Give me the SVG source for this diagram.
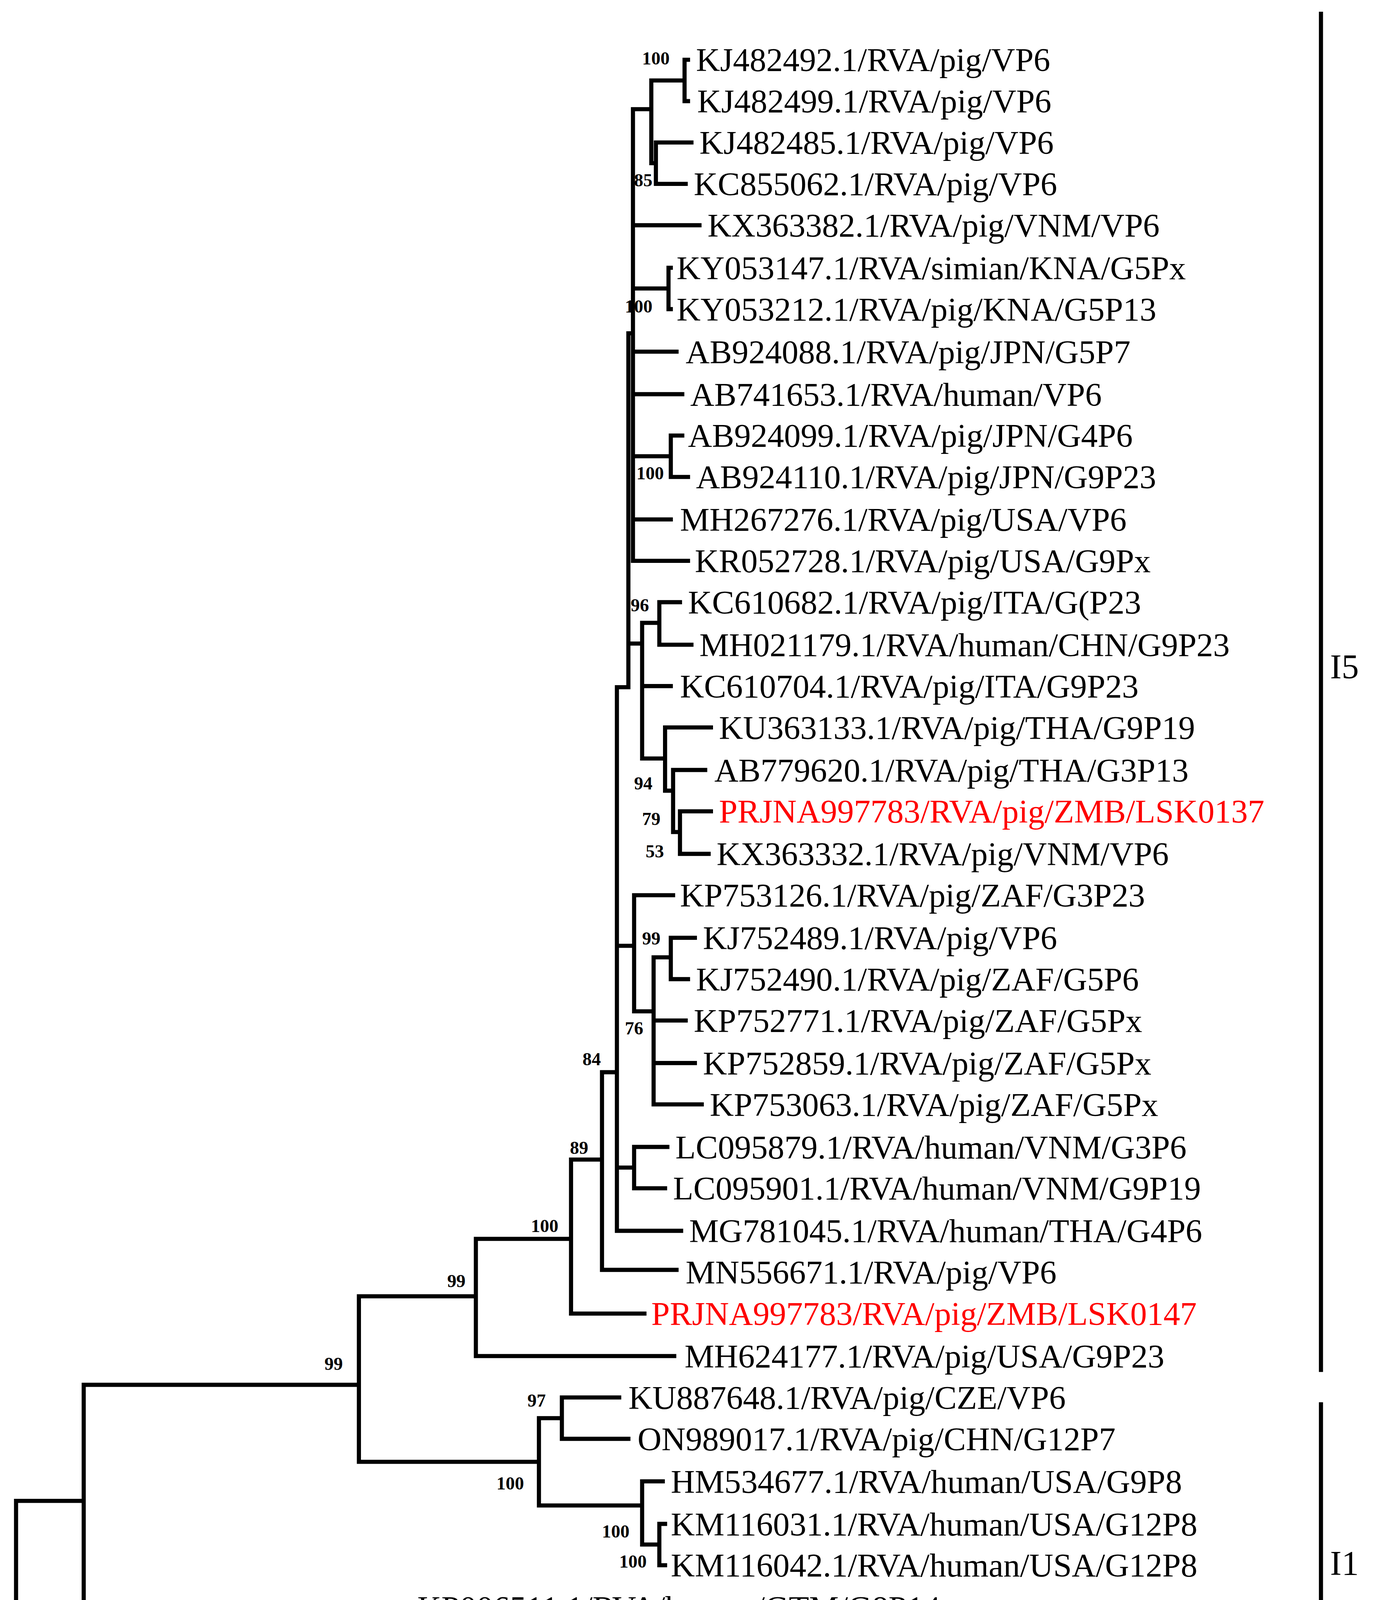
<svg xmlns="http://www.w3.org/2000/svg" width="3522" height="4604" viewBox="0 0 3522 4604">
<style>
.ln{fill:none;stroke:#000;stroke-width:3.6;stroke-linecap:square}
.t{font-family:"Liberation Serif",serif;font-size:29px;fill:#000}
.r{fill:#ff0000}
.b{font-family:"Liberation Serif",serif;font-size:16px;font-weight:bold;fill:#000}
.g{font-family:"Liberation Serif",serif;font-size:30px;fill:#000}
</style>
<rect width="3522" height="4604" fill="#fff"/>
<g transform="scale(2.935 2.942)">
<g id="connectors">
<path class="ln" d="M14 1306V1470 M14 1306H73 M14 1470H620
M73 1205V1415 M73 1415H355 M73 1205H313
M355 1398V1435 M355 1398H358 M355 1435H402
M313 1128V1272 M313 1128H415 M313 1272H470
M470 1234V1310 M470 1234H490 M470 1310H560
M490 1216V1252 M490 1216H540 M490 1252H548
M560 1289V1344 M560 1289H578 M560 1344H575
M575 1326V1362 M575 1326H580 M575 1362H580
M415 1078V1180 M415 1078H498 M415 1180H588
M498 1009V1143 M498 1009H525 M498 1143H562
M525 933V1105 M525 933H538 M525 1105H590
M538 598V1071 M538 598H548 M538 823H553 M538 1016H553 M538 1071H594
M553 998V1034 M553 998H582 M553 1034H580
M553 779V880 M553 779H587 M553 880H570
M570 833V961 M570 833H585 M570 888H598 M570 925H606 M570 961H612
M585 816V852 M585 816H606 M585 852H600
M548 290V598 M548 290H552 M548 560H560
M560 542V660 M560 542H575 M560 597H585 M560 660H580
M575 524V561 M575 524H593 M575 561H603
M580 633V688 M580 633H620 M580 688H587
M587 670V724 M587 670H615 M587 724H593
M593 706V743 M593 706H620 M593 743H618
M552 95V488 M552 95H568 M552 196H610 M552 251H583 M552 306H590 M552 343H595 M552 397H585 M552 452H585 M552 488H600
M568 70V142 M568 70H597 M568 142H572
M597 52V88 M597 52H600 M597 88H600
M572 124V160 M572 124H603 M572 160H598
M583 233V269 M583 233H585 M583 269H585
M585 379V415 M585 379H595 M585 415H600
M1152 12V1192 M1152 1222V1495
M90 1520H180 M90 1512V1520 M180 1512V1520"/>
</g>
<g id="leaves">
<text class="t" x="607" y="62">KJ482492.1/RVA/pig/VP6</text>
<text class="t" x="608" y="98">KJ482499.1/RVA/pig/VP6</text>
<text class="t" x="610" y="134">KJ482485.1/RVA/pig/VP6</text>
<text class="t" x="605" y="170">KC855062.1/RVA/pig/VP6</text>
<text class="t" x="617" y="206">KX363382.1/RVA/pig/VNM/VP6</text>
<text class="t" x="590" y="243">KY053147.1/RVA/simian/KNA/G5Px</text>
<text class="t" x="590" y="279">KY053212.1/RVA/pig/KNA/G5P13</text>
<text class="t" x="598" y="316">AB924088.1/RVA/pig/JPN/G5P7</text>
<text class="t" x="602" y="353">AB741653.1/RVA/human/VP6</text>
<text class="t" x="600" y="389">AB924099.1/RVA/pig/JPN/G4P6</text>
<text class="t" x="607" y="425">AB924110.1/RVA/pig/JPN/G9P23</text>
<text class="t" x="593" y="462">MH267276.1/RVA/pig/USA/VP6</text>
<text class="t" x="606" y="498">KR052728.1/RVA/pig/USA/G9Px</text>
<text class="t" x="600" y="534">KC610682.1/RVA/pig/ITA/G(P23</text>
<text class="t" x="610" y="571">MH021179.1/RVA/human/CHN/G9P23</text>
<text class="t" x="593" y="607">KC610704.1/RVA/pig/ITA/G9P23</text>
<text class="t" x="627" y="643">KU363133.1/RVA/pig/THA/G9P19</text>
<text class="t" x="623" y="680">AB779620.1/RVA/pig/THA/G3P13</text>
<text class="t r" x="627" y="716">PRJNA997783/RVA/pig/ZMB/LSK0137</text>
<text class="t" x="625" y="753">KX363332.1/RVA/pig/VNM/VP6</text>
<text class="t" x="593" y="789">KP753126.1/RVA/pig/ZAF/G3P23</text>
<text class="t" x="613" y="826">KJ752489.1/RVA/pig/VP6</text>
<text class="t" x="607" y="862">KJ752490.1/RVA/pig/ZAF/G5P6</text>
<text class="t" x="605" y="898">KP752771.1/RVA/pig/ZAF/G5Px</text>
<text class="t" x="613" y="935">KP752859.1/RVA/pig/ZAF/G5Px</text>
<text class="t" x="619" y="971">KP753063.1/RVA/pig/ZAF/G5Px</text>
<text class="t" x="589" y="1008">LC095879.1/RVA/human/VNM/G3P6</text>
<text class="t" x="587" y="1044">LC095901.1/RVA/human/VNM/G9P19</text>
<text class="t" x="601" y="1081">MG781045.1/RVA/human/THA/G4P6</text>
<text class="t" x="598" y="1117">MN556671.1/RVA/pig/VP6</text>
<text class="t r" x="568" y="1153">PRJNA997783/RVA/pig/ZMB/LSK0147</text>
<text class="t" x="597" y="1190">MH624177.1/RVA/pig/USA/G9P23</text>
<text class="t" x="548" y="1226">KU887648.1/RVA/pig/CZE/VP6</text>
<text class="t" x="556" y="1262">ON989017.1/RVA/pig/CHN/G12P7</text>
<text class="t" x="585" y="1299">HM534677.1/RVA/human/USA/G9P8</text>
<text class="t" x="585" y="1336">KM116031.1/RVA/human/USA/G12P8</text>
<text class="t" x="585" y="1372">KM116042.1/RVA/human/USA/G12P8</text>
<text class="t" x="364" y="1409">KP006511.1/RVA/human/GTM/G8P14</text>
<text class="t" x="409" y="1445">KJ411437.1/RVA/human/USA/G8P14</text>
<text class="t" x="627" y="1481">KX618234.1/RVA/human/BRA/G3P9</text>
</g>
<g id="bootstrap">
<text class="b" x="560" y="56">100</text>
<text class="b" x="553" y="162">85</text>
<text class="b" x="545" y="272">100</text>
<text class="b" x="555" y="417">100</text>
<text class="b" x="550" y="532">96</text>
<text class="b" x="553" y="687">94</text>
<text class="b" x="560" y="718">79</text>
<text class="b" x="563" y="746">53</text>
<text class="b" x="560" y="822">99</text>
<text class="b" x="545" y="900">76</text>
<text class="b" x="508" y="927">84</text>
<text class="b" x="497" y="1004">89</text>
<text class="b" x="463" y="1072">100</text>
<text class="b" x="390" y="1120">99</text>
<text class="b" x="283" y="1192">99</text>
<text class="b" x="460" y="1224">97</text>
<text class="b" x="433" y="1296">100</text>
<text class="b" x="525" y="1338">100</text>
<text class="b" x="540" y="1364">100</text>
<text class="b" x="320" y="1437">100</text>
</g>
<g id="groups">
<text class="g" x="1160" y="590">I5</text>
<text class="g" x="1160" y="1370">I1</text>
<text class="t" x="122" y="1550">0.1</text>
</g>
</g>
</svg>
